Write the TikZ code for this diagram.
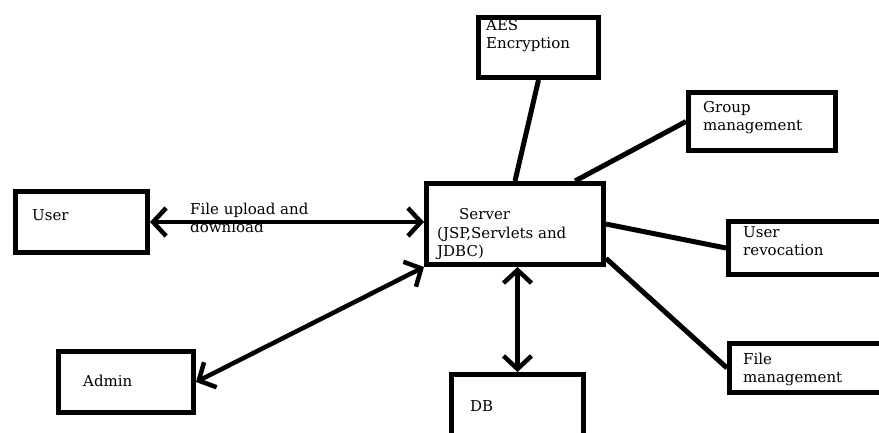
\documentclass[tikz,border=0pt]{standalone}
\usepackage{fontspec}
\setmainfont{DejaVu Serif}
\usetikzlibrary{arrows.meta,calc}
\begin{document}
\begin{tikzpicture}[x=1pt,y=-1pt,
  blk/.style={draw=black,line width=5pt,inner sep=0pt,anchor=north west},
  txt/.style={font=\fontsize{15}{18}\selectfont,align=left,inner sep=0pt,anchor=base west},
  conn/.style={line width=5pt},
  biarrow/.style={line width=4.5pt,{Straight Barb[length=13pt,width=28pt]}-{Straight Barb[length=13pt,width=28pt]}}
]
\fill[white] (0,0) rectangle (879,432);
\useasboundingbox (0,0) rectangle (879,432);
\clip (0,0) rectangle (879,432);

% boxes
\node[blk,minimum width=132pt,minimum height=61pt] (user) at (13,189) {};
\node[blk,minimum width=177pt,minimum height=81pt] (server) at (424,181) {};
\node[blk,minimum width=120pt,minimum height=60pt] (aes) at (476,15) {};
\node[blk,minimum width=147pt,minimum height=58pt] (group) at (686,90) {};
\node[blk,minimum width=169pt,minimum height=53pt] (urev) at (726,219) {};
\node[blk,minimum width=168pt,minimum height=49pt] (fm) at (727,341) {};
\node[blk,minimum width=132pt,minimum height=73pt] (db) at (449,372) {};
\node[blk,minimum width=135pt,minimum height=61pt] (admin) at (56,349) {};

% texts (anchor = baseline of last line)
\node[txt] (tuser) at (32,220) {User};
\node[txt] (tfile) at (190,232) {File upload and\\download};
\node[txt] (tserver) at (459,219) {Server};
\node[txt] (tjsp) at (437,256) {(JSP,Servlets and\\JDBC)};
\node[txt] (taes) at (486,48) {AES\\Encryption};
\node[txt] (tgroup) at (703,130) {Group\\management};
\node[txt] (turev) at (743,255) {User\\revocation};
\node[txt] (tfm) at (743,382) {File\\management};
\node[txt] (tdb) at (470,411) {DB};
\node[txt] (tadmin) at (83,386) {Admin};

% connectors
\draw[biarrow] (user.east) -- (user.east -| server.west);
\draw[biarrow] (server.south west) -- (admin.east);
\draw[biarrow] (db.north |- server.south) -- (db.north);
\draw[conn] (aes.south) -- (server.north);
\draw[conn] (group.west) -- ($(server.north west)!0.83!(server.north east)$);
\draw[conn] (server.east) -- (urev.west);
\draw[conn] ($(server.east)!0.8!(server.south east)$) -- (fm.west);
\end{tikzpicture}
\end{document}
